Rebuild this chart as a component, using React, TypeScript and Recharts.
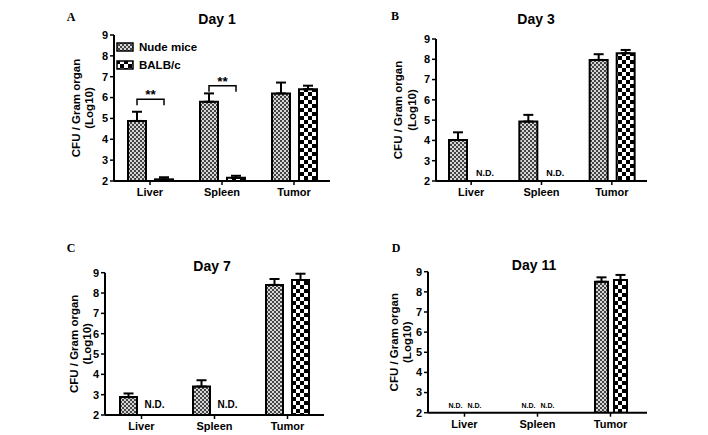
import React from 'react';
import { BarChart, Bar, XAxis, YAxis, ErrorBar, Legend, Rectangle } from 'recharts';

const FONT = '"Liberation Sans", Arial, Helvetica, sans-serif';
const SERIF = '"Liberation Serif", "Times New Roman", serif';
const FLOOR = 2;

const organs = ['Liver', 'Spleen', 'Tumor'];
const yTicks = [2, 3, 4, 5, 6, 7, 8, 9];
const seriesNames = ['Nude mice', 'BALB/c'];

// Day 1
const day1Nude = [4.88, 5.8, 6.2];
const day1NudeErr = [0.44, 0.4, 0.52];
const day1Balb = [2.08, 2.15, 6.4];
const day1BalbErr = [0.1, 0.1, 0.17];
const day1Sig = [5.92, 6.57, null];

// Day 3 (null = N.D.)
const day3Nude = [4.02, 4.93, 7.97];
const day3NudeErr = [0.38, 0.33, 0.28];
const day3Balb = [null, null, 8.3];
const day3BalbErr = [null, null, 0.16];

// Day 7
const day7Nude = [2.88, 3.4, 8.4];
const day7NudeErr = [0.18, 0.31, 0.29];
const day7Balb = [null, null, 8.64];
const day7BalbErr = [null, null, 0.31];

// Day 11
const day11Nude = [null, null, 8.5];
const day11NudeErr = [null, null, 0.22];
const day11Balb = [null, null, 8.59];
const day11BalbErr = [null, null, 0.25];

const YW = 40;
const XH = 20;

function patternDefs(id: string) {
  return (
    <defs>
      <pattern id={`nude-${id}`} width={4} height={4} patternUnits="userSpaceOnUse">
        <rect width={4} height={4} fill="#d6d6d6" />
        <rect width={2} height={2} fill="#444" />
        <rect x={2} y={2} width={2} height={2} fill="#444" />
      </pattern>
      <pattern id={`balb-${id}`} width={8} height={8} patternUnits="userSpaceOnUse">
        <rect width={8} height={8} fill="#fff" />
        <rect width={4} height={4} fill="#000" />
        <rect x={4} y={4} width={4} height={4} fill="#000" />
      </pattern>
    </defs>
  );
}

const renderLegend = () => (
  <div style={{ fontFamily: FONT, fontWeight: 'bold', fontSize: 11.5, color: '#000' }}>
    {seriesNames.map((name, i) => (
      <div key={name} style={{ display: 'flex', alignItems: 'center', height: 18 }}>
        <svg width={18} height={10} style={{ marginRight: 5 }}>
          {patternDefs(`lg${i}`)}
          <rect x={1} y={1} width={16} height={8} fill={`url(#${i === 0 ? 'nude' : 'balb'}-lg${i})`} stroke="#000" strokeWidth={1.5} />
        </svg>
        <span>{name}</span>
      </div>
    ))}
  </div>
);

interface PanelProps {
  id: string;
  title: string;
  letter: string;
  box: { x: number; y: number; w: number; h: number };
  plot: { left: number; right: number; top: number; bottom: number };
  titlePos: [number, number];
  letterPos: [number, number];
  yLab: [number, number];
  barSize: number;
  barGap: number;
  ndFont?: number;
  ndLift?: number;
  legend?: boolean;
  nude: (number | null)[];
  nudeErr: (number | null)[];
  balb: (number | null)[];
  balbErr: (number | null)[];
  sig?: (number | null)[];
}

function Panel(p: PanelProps) {
  const data = organs.map((organ, i) => ({
    organ,
    nude: p.nude[i] ?? FLOOR,
    balb: p.balb[i] ?? FLOOR,
    nudeErr: p.nudeErr[i] != null ? [0, p.nudeErr[i]] : null,
    balbErr: p.balbErr[i] != null ? [0, p.balbErr[i]] : null,
    nudeND: p.nude[i] == null,
    balbND: p.balb[i] == null,
    sig: p.sig ? p.sig[i] : null,
  }));

  const margin = {
    left: p.plot.left - p.box.x - YW,
    right: p.box.x + p.box.w - p.plot.right,
    top: p.plot.top - p.box.y,
    bottom: p.box.y + p.box.h - p.plot.bottom - XH,
  };
  const axisX = p.plot.left - p.box.x;
  const midY = (p.plot.top + p.plot.bottom) / 2 - p.box.y;

  const yLabel = () => (
    <g fontFamily={FONT} fontWeight="bold" fontSize={11.5} fill="#000">
      <text transform={`translate(${axisX - p.yLab[0]},${midY}) rotate(-90)`} textAnchor="middle" dominantBaseline="central">CFU / Gram organ</text>
      <text transform={`translate(${axisX - p.yLab[1]},${midY}) rotate(-90)`} textAnchor="middle" dominantBaseline="central">(Log10)</text>
    </g>
  );

  const makeShape = (key: 'nude' | 'balb') => (props: any) => {
    const { x, y, width, height } = props;
    const row = props.payload ?? data[props.index];
    const base = y + height;
    if (row && row[`${key}ND`]) {
      return (
        <text x={x + width / 2} y={base - (p.ndLift ?? 5)} textAnchor="middle"
          fontFamily={FONT} fontWeight="bold" fontSize={p.ndFont ?? 10} fill="#000">N.D.</text>
      );
    }
    let bracket = null;
    if (key === 'nude' && row && row.sig != null && height > 0) {
      const perUnit = height / (row.nude - FLOOR);
      const by = base - (row.sig - FLOOR) * perUnit;
      const x1 = x + width / 2;
      const x2 = x + width * 1.5 + p.barGap;
      bracket = (
        <g>
          <path d={`M${x1},${by + 6}V${by}H${x2}V${by + 6}`} fill="none" stroke="#000" strokeWidth={1.5} />
          <text x={(x1 + x2) / 2} y={by} textAnchor="middle" fontFamily={FONT} fontWeight="bold" fontSize={13.5} fill="#000">**</text>
        </g>
      );
    }
    return (
      <g>
        <Rectangle {...props} />
        {bracket}
      </g>
    );
  };

  const tickStyle = { fill: '#000', fontSize: 11, fontWeight: 'bold', fontFamily: FONT };

  return (
    <div style={{ position: 'absolute', left: p.box.x, top: p.box.y, width: p.box.w, height: p.box.h }}>
      <BarChart width={p.box.w} height={p.box.h} data={data} margin={margin} barSize={p.barSize} barGap={p.barGap}>
        {patternDefs(p.id)}
        <XAxis dataKey="organ" height={XH} tick={tickStyle} tickSize={4} tickMargin={3}
          axisLine={{ stroke: '#000', strokeWidth: 2 }} tickLine={{ stroke: '#000', strokeWidth: 1.5 }} />
        <YAxis width={YW} domain={[2, 9]} ticks={yTicks} allowDataOverflow interval={0} tick={tickStyle} tickSize={4} tickMargin={2}
          axisLine={{ stroke: '#000', strokeWidth: 2 }} tickLine={{ stroke: '#000', strokeWidth: 1.5 }} label={yLabel} />
        {p.legend && (
          <Legend content={renderLegend} layout="vertical" align="center" verticalAlign="middle"
            wrapperStyle={{ left: 116, top: 38, width: 'auto' }} />
        )}
        <Bar dataKey="nude" fill={`url(#nude-${p.id})`} stroke="#000" strokeWidth={2} isAnimationActive={false}
          shape={makeShape('nude')}>
          <ErrorBar dataKey="nudeErr" direction="y" width={5} stroke="#000" strokeWidth={2} isAnimationActive={false} />
        </Bar>
        <Bar dataKey="balb" fill={`url(#balb-${p.id})`} stroke="#000" strokeWidth={2} isAnimationActive={false}
          shape={makeShape('balb')}>
          <ErrorBar dataKey="balbErr" direction="y" width={5} stroke="#000" strokeWidth={2} isAnimationActive={false} />
        </Bar>
      </BarChart>
      <div style={{ position: 'absolute', left: p.titlePos[0] - p.box.x, top: p.titlePos[1] - p.box.y, transform: 'translate(-50%,-50%)',
        fontFamily: FONT, fontWeight: 'bold', fontSize: 14, lineHeight: 1, whiteSpace: 'nowrap', color: '#000' }}>{p.title}</div>
      <div style={{ position: 'absolute', left: p.letterPos[0] - p.box.x, top: p.letterPos[1] - p.box.y, transform: 'translate(-50%,-50%)',
        fontFamily: SERIF, fontWeight: 'bold', fontSize: 12, lineHeight: 1, color: '#000' }}>{p.letter}</div>
    </div>
  );
}

export default function App() {
  return (
    <div style={{ position: 'absolute', left: 0, top: 0, width: 708, height: 435, background: '#fff', overflow: 'hidden' }}>
      <Panel id="a" title="Day 1" letter="A" legend
        box={{ x: 0, y: 0, w: 354, h: 217 }} plot={{ left: 114, right: 330, top: 35, bottom: 181 }}
        titlePos={[217, 18.5]} letterPos={[71, 16.5]} yLab={[38, 25]} barSize={18} barGap={9}
        nude={day1Nude} nudeErr={day1NudeErr} balb={day1Balb} balbErr={day1BalbErr} sig={day1Sig} />
      <Panel id="b" title="Day 3" letter="B"
        box={{ x: 354, y: 0, w: 354, h: 217 }} plot={{ left: 436, right: 647, top: 39, bottom: 181 }}
        titlePos={[536, 18.5]} letterPos={[395, 15.5]} yLab={[38, 24]} barSize={18} barGap={9} ndFont={9} ndLift={5}
        nude={day3Nude} nudeErr={day3NudeErr} balb={day3Balb} balbErr={day3BalbErr} />
      <Panel id="c" title="Day 7" letter="C"
        box={{ x: 0, y: 217, w: 354, h: 218 }} plot={{ left: 105, right: 324, top: 272.7, bottom: 415 }}
        titlePos={[212, 265.5]} letterPos={[71, 247.5]} yLab={[31, 18]} barSize={17} barGap={9} ndFont={10} ndLift={7}
        nude={day7Nude} nudeErr={day7NudeErr} balb={day7Balb} balbErr={day7BalbErr} />
      <Panel id="d" title="Day 11" letter="D"
        box={{ x: 354, y: 217, w: 354, h: 218 }} plot={{ left: 428, right: 647, top: 271.7, bottom: 412.7 }}
        titlePos={[534, 265]} letterPos={[396, 247.5]} yLab={[34, 21]} barSize={13} barGap={6} ndFont={7} ndLift={5}
        nude={day11Nude} nudeErr={day11NudeErr} balb={day11Balb} balbErr={day11BalbErr} />
    </div>
  );
}
